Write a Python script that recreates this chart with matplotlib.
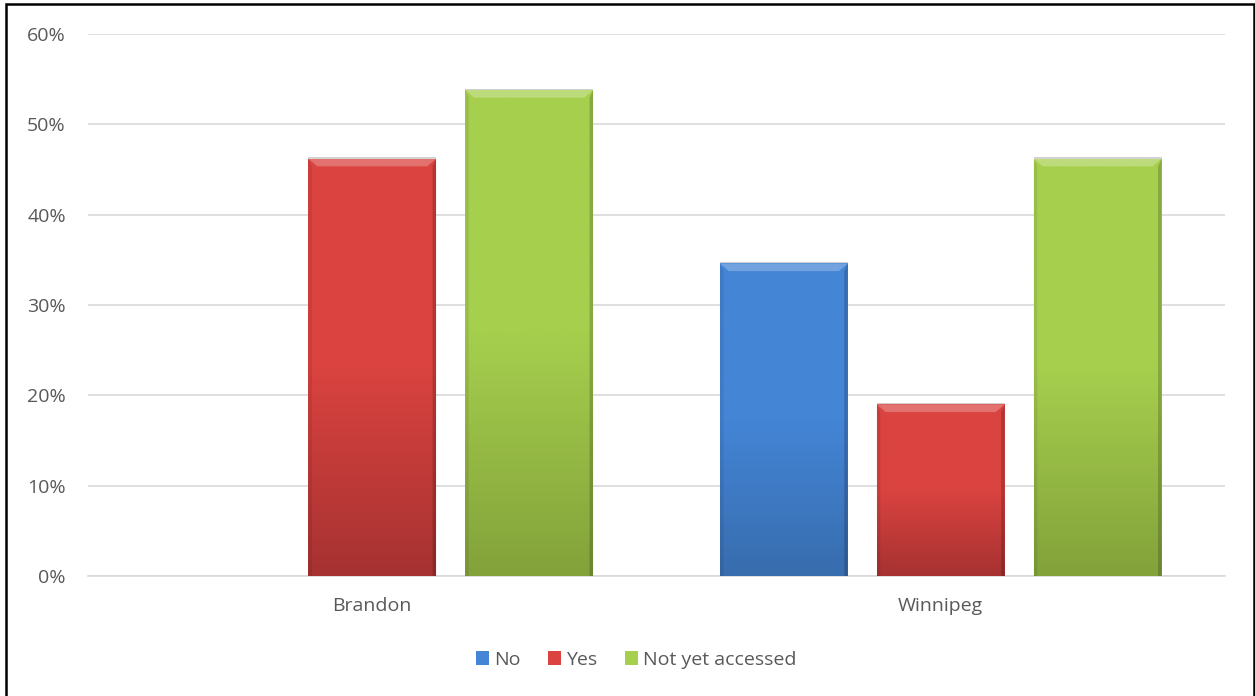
import numpy as np
import matplotlib.pyplot as plt
from matplotlib.patches import Rectangle, Polygon
from matplotlib.colors import LinearSegmentedColormap

cities = ["Brandon", "Winnipeg"]
series = ["No", "Yes", "Not yet accessed"]
no_vals = [0.0, 34.6]
yes_vals = [46.2, 19.0]
notyet_vals = [53.8, 46.2]
# (top colour, bottom colour) for the Excel-style gradient
colors_top = ["#4485D6", "#DA4340", "#A6CF4E"]
colors_bot = ["#386DAE", "#A63231", "#83A23A"]
yticks = [0, 10, 20, 30, 40, 50, 60]

plt.rcParams["font.family"] = ["Open Sans", "DejaVu Sans"]
txt = "#595959"

fig = plt.figure(figsize=(12.55, 6.96), dpi=100)
ax = fig.add_axes([88 / 1255, 1 - 576 / 696, 1137 / 1255, 542 / 696])

x = np.arange(len(cities))
width = 0.225
offsets = [-0.276, 0.0, 0.276]
all_vals = [no_vals, yes_vals, notyet_vals]

for i, vals in enumerate(all_vals):
    bars = ax.bar(x + offsets[i], vals, width, color=colors_top[i], label=series[i],
                  zorder=3, linewidth=0)
    cmap = LinearSegmentedColormap.from_list("g%d" % i, [colors_bot[i], colors_top[i], colors_top[i]])
    for b in bars:
        h = b.get_height()
        if h <= 0:
            continue
        x0, w = b.get_x(), b.get_width()
        grad = np.linspace(0, 1, 256).reshape(-1, 1)
        im = ax.imshow(grad, extent=(x0, x0 + w, 0, h), origin="lower", cmap=cmap,
                       aspect="auto", zorder=3.1)
        im.set_clip_path(b)
        # bevel: lighter top strip, darker sides
        dx = w * 0.07
        dy = 0.85
        ax.add_patch(Polygon([(x0, h), (x0 + w, h), (x0 + w - dx, h - dy), (x0 + dx, h - dy)],
                             closed=True, facecolor="white", alpha=0.25, lw=0, zorder=3.2))
        ax.add_patch(Polygon([(x0, 0), (x0, h), (x0 + dx * 0.4, h - dy), (x0 + dx * 0.4, 0)],
                             closed=True, facecolor="black", alpha=0.08, lw=0, zorder=3.2))
        ax.add_patch(Polygon([(x0 + w, 0), (x0 + w, h), (x0 + w - dx * 0.4, h - dy),
                              (x0 + w - dx * 0.4, 0)],
                             closed=True, facecolor="black", alpha=0.18, lw=0, zorder=3.2))
        ax.add_patch(Rectangle((x0, h), w, 0.15, facecolor="#d0d0d0", lw=0, zorder=3.0))

ax.set_xlim(-0.5, 1.5)
ax.set_ylim(0, 60)
ax.set_yticks(yticks)
ax.set_yticklabels(["%d%%" % t for t in yticks])
ax.set_xticks(x)
ax.set_xticklabels(cities)
ax.yaxis.grid(True, color="#d9d9d9", linewidth=1.2, zorder=0)
ax.set_axisbelow(True)
for s in ["top", "right", "left"]:
    ax.spines[s].set_visible(False)
ax.spines["bottom"].set_color("#d9d9d9")
ax.spines["bottom"].set_linewidth(1.2)
ax.tick_params(axis="both", length=0, labelsize=14, colors=txt)
ax.tick_params(axis="y", pad=16)
ax.tick_params(axis="x", pad=15)

leg = fig.legend(loc="center", bbox_to_anchor=(636 / 1255, 1 - 660 / 696), ncol=3,
                 frameon=False, fontsize=14, handlelength=0.7, handleheight=0.7,
                 handletextpad=0.25, columnspacing=1.4)
for t in leg.get_texts():
    t.set_color(txt)

fig.add_artist(Rectangle((6 / 1255, -0.05), 1248 / 1255, 1.05 - 4 / 696,
                         transform=fig.transFigure, fill=False, edgecolor="black",
                         linewidth=1.8))

fig.savefig("out.png", dpi=100)
